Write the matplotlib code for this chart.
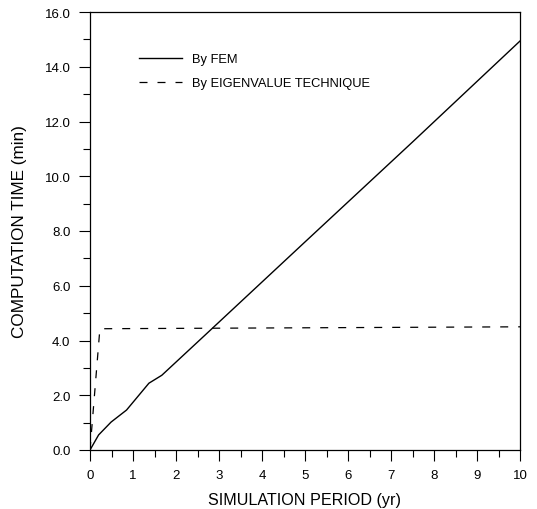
import matplotlib
matplotlib.use("Agg")
import matplotlib.pyplot as plt
from matplotlib.ticker import MultipleLocator, FormatStrFormatter

plt.rcParams['font.family'] = ['Liberation Sans', 'DejaVu Sans']

# Computation time vs simulation period
fem_years = [0.0, 0.2, 0.49, 0.85, 1.37, 1.67, 2.65, 5.0, 7.5, 10.0]
fem_minutes = [0.0, 0.55, 1.02, 1.46, 2.44, 2.73, 4.16, 7.6, 11.25, 14.94]

eig_years = [0.0, 0.23, 10.0]
eig_minutes = [0.0, 4.43, 4.50]

x_ticks = list(range(0, 11))
y_ticks = [0.0, 2.0, 4.0, 6.0, 8.0, 10.0, 12.0, 14.0, 16.0]

fig = plt.figure(figsize=(5.37, 5.10), dpi=100)
ax = fig.add_axes([90/537, 1 - 451/510, 430/537, 438/510])

ax.plot(fem_years, fem_minutes, color='black', lw=1.0, label='By FEM')
ax.plot(eig_years, eig_minutes, color='black', lw=0.9, ls=(0, (6.4, 8)),
        label='By EIGENVALUE TECHNIQUE')

ax.set_xlim(0, 10)
ax.set_ylim(0, 16)
ax.set_xticks(x_ticks)
ax.set_yticks(y_ticks)
ax.xaxis.set_minor_locator(MultipleLocator(0.5))
ax.yaxis.set_minor_locator(MultipleLocator(1.0))
ax.yaxis.set_major_formatter(FormatStrFormatter('%.1f'))

ax.tick_params(which='major', direction='out', length=8, width=0.8,
               labelsize=9.5, pad=6, top=False, right=False)
ax.tick_params(which='minor', direction='out', length=5, width=0.8,
               top=False, right=False)
for s in ax.spines.values():
    s.set_linewidth(0.9)

ax.set_xlabel('SIMULATION PERIOD (yr)', fontsize=11.6)
ax.set_ylabel('COMPUTATION TIME (min)', fontsize=12.3)
ax.xaxis.set_label_coords(0.5, -(501 - 451) / 438, transform=ax.transAxes)
ax.yaxis.set_label_coords(-(90 - 19.5) / 430, 0.5, transform=ax.transAxes)
ax.xaxis.label.set_va('center')
ax.yaxis.label.set_va('center')

leg = ax.legend(loc='upper left', bbox_to_anchor=(43 / 430, (451 - 48) / 438),
                frameon=False, borderpad=0, fontsize=9.3, handlelength=3.3,
                handletextpad=0.8, labelspacing=0.9)

fig.savefig('out.png', dpi=100)
